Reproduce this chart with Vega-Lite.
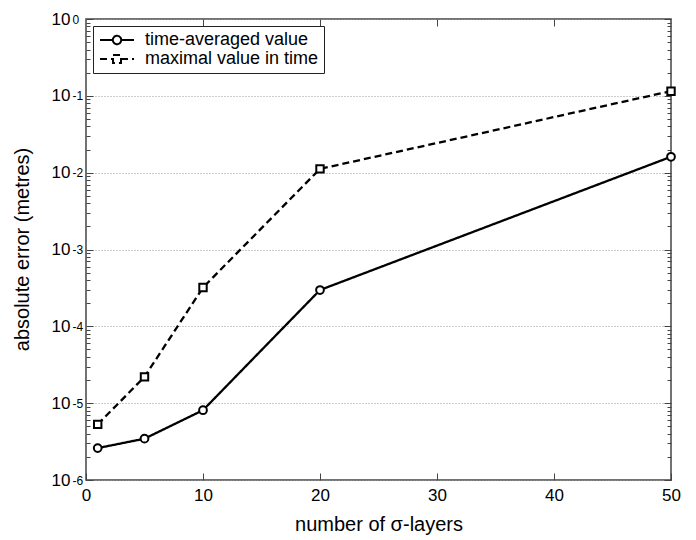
{
  "$schema": "https://vega.github.io/schema/vega-lite/v6.json",
  "width": 585,
  "height": 461,
  "autosize": {"type": "none"},
  "padding": {"left": 86, "top": 19, "right": 25, "bottom": 60},
  "background": "white",
  "config": {
    "font": "Liberation Sans",
    "view": {"stroke": "#444", "strokeWidth": 1.5},
    "axis": {"labelColor": "black", "titleColor": "black", "tickColor": "#444", "tickWidth": 1, "domain": false, "labelFont": "Liberation Sans", "titleFont": "Liberation Sans"}
  },
  "data": {
    "values": [
      {"layers": 1, "error": 2.6e-6, "series": "time-averaged value"},
      {"layers": 5, "error": 3.45e-6, "series": "time-averaged value"},
      {"layers": 10, "error": 8.1e-6, "series": "time-averaged value"},
      {"layers": 20, "error": 2.97e-4, "series": "time-averaged value"},
      {"layers": 50, "error": 0.0161, "series": "time-averaged value"},
      {"layers": 1, "error": 5.3e-6, "series": "maximal value in time"},
      {"layers": 5, "error": 2.2e-5, "series": "maximal value in time"},
      {"layers": 10, "error": 3.2e-4, "series": "maximal value in time"},
      {"layers": 20, "error": 0.0112, "series": "maximal value in time"},
      {"layers": 50, "error": 0.115, "series": "maximal value in time"}
    ]
  },
  "layer": [
    {
      "mark": {"type": "line", "strokeWidth": 2.3, "color": "black"},
      "encoding": {
        "x": {
          "field": "layers", "type": "quantitative",
          "scale": {"domain": [0, 50], "nice": false},
          "axis": {
            "orient": "bottom", "values": [0, 10, 20, 30, 40, 50], "tickSize": -7,
            "labelFontSize": 17, "labelPadding": 14, "grid": false,
            "title": "number of σ-layers", "titleFontSize": 20, "titleFontWeight": "normal",
            "titleY": 50, "titleBaseline": "alphabetic",
            "labelFlush": false, "labelOverlap": false
          }
        },
        "y": {
          "field": "error", "type": "quantitative",
          "scale": {"type": "log", "domain": [1e-6, 1], "nice": false},
          "axis": {
            "orient": "left",
            "values": [1e-6, 2e-6, 3e-6, 4e-6, 5e-6, 6e-6, 7e-6, 8e-6, 9e-6, 1e-5, 2e-5, 3e-5, 4e-5, 5e-5, 6e-5, 7e-5, 8e-5, 9e-5, 1e-4, 2e-4, 3e-4, 4e-4, 5e-4, 6e-4, 7e-4, 8e-4, 9e-4, 1e-3, 2e-3, 3e-3, 4e-3, 5e-3, 6e-3, 7e-3, 8e-3, 9e-3, 1e-2, 2e-2, 3e-2, 4e-2, 5e-2, 6e-2, 7e-2, 8e-2, 9e-2, 0.1, 0.2, 0.3, 0.4, 0.5, 0.6, 0.7, 0.8, 0.9, 1],
            "tickSize": {"condition": {"test": "abs(log(datum.value)/LN10 - round(log(datum.value)/LN10)) < 0.001", "value": -7}, "value": -4},
            "labelExpr": "abs(log(datum.value)/LN10 - round(log(datum.value)/LN10)) < 0.001 ? '10' : ''",
            "labelFontSize": 17, "labelPadding": 23, "labelOverlap": false, "labelFlush": false, "labelBound": false,
            "grid": true,
            "gridOpacity": {"condition": {"test": "abs(log(datum.value)/LN10 - round(log(datum.value)/LN10)) < 0.001", "value": 1}, "value": 0},
            "gridDash": [1, 2], "gridColor": "#999", "gridWidth": 1,
            "title": "absolute error (metres)", "titleFontSize": 20, "titleFontWeight": "normal",
            "titleX": -58, "titleY": 230, "titleBaseline": "alphabetic", "titleAlign": "center", "titleAngle": -90
          }
        },
        "strokeDash": {
          "field": "series", "type": "nominal",
          "scale": {"domain": ["time-averaged value", "maximal value in time"], "range": [[1, 0], [7, 4]]},
          "legend": {
            "title": null, "orient": "top-left", "offset": 7,
            "strokeColor": "#222", "fillColor": "white", "padding": 5, "cornerRadius": 0,
            "labelFontSize": 18, "labelColor": "black", "labelOffset": 29, "rowPadding": 1, "labelLimit": 400,
            "symbolSize": 196, "symbolStrokeColor": "black", "symbolStrokeWidth": 2, "symbolFillColor": "white",
            "encode": {
              "symbols": {
                "update": {
                  "shape": {"signal": "datum.value == 'time-averaged value' ? 'M-1,0H0.83M2.03,0H3.86M2.03,0A0.6,0.6,0,1,1,0.83,0A0.6,0.6,0,1,1,2.03,0' : 'M-1,0H0.86M2,0H3.86M0.86,-0.57H2V0.57H0.86Z'"}
                }
              }
            }
          }
        }
      }
    },
    {
      "transform": [{"filter": "datum.series == 'time-averaged value'"}],
      "mark": {"type": "point", "shape": "circle", "filled": false, "color": "black", "strokeWidth": 2, "size": 60, "opacity": 1, "fill": "white"},
      "encoding": {
        "x": {
          "field": "layers", "type": "quantitative",
          "scale": {"domain": [0, 50], "nice": false},
          "axis": {"orient": "top", "values": [10, 20, 30, 40], "tickSize": -7, "labels": false, "title": null, "grid": false}
        },
        "y": {
          "field": "error", "type": "quantitative",
          "scale": {"type": "log", "domain": [1e-6, 1], "nice": false},
          "axis": {
            "orient": "right",
            "values": [1e-6, 2e-6, 3e-6, 4e-6, 5e-6, 6e-6, 7e-6, 8e-6, 9e-6, 1e-5, 2e-5, 3e-5, 4e-5, 5e-5, 6e-5, 7e-5, 8e-5, 9e-5, 1e-4, 2e-4, 3e-4, 4e-4, 5e-4, 6e-4, 7e-4, 8e-4, 9e-4, 1e-3, 2e-3, 3e-3, 4e-3, 5e-3, 6e-3, 7e-3, 8e-3, 9e-3, 1e-2, 2e-2, 3e-2, 4e-2, 5e-2, 6e-2, 7e-2, 8e-2, 9e-2, 0.1, 0.2, 0.3, 0.4, 0.5, 0.6, 0.7, 0.8, 0.9, 1],
            "tickSize": {"condition": {"test": "abs(log(datum.value)/LN10 - round(log(datum.value)/LN10)) < 0.001", "value": -7}, "value": -4},
            "labels": false, "title": null, "grid": false
          }
        }
      }
    },
    {
      "transform": [{"filter": "datum.series == 'maximal value in time'"}],
      "mark": {"type": "point", "shape": "square", "filled": false, "color": "black", "strokeWidth": 2, "size": 55, "opacity": 1, "fill": "white"},
      "encoding": {
        "x": {
          "field": "layers", "type": "quantitative",
          "scale": {"domain": [0, 50], "nice": false},
          "axis": null
        },
        "y": {
          "field": "error", "type": "quantitative",
          "scale": {"type": "log", "domain": [1e-6, 1], "nice": false},
          "axis": {
            "orient": "left",
            "values": [1e-6, 1e-5, 1e-4, 1e-3, 1e-2, 0.1, 1],
            "ticks": false, "grid": false, "title": null,
            "labelExpr": "'' + round(log(datum.value)/LN10)",
            "labelFontSize": 12, "labelPadding": 14, "labelAlign": "left", "labelDy": -7,
            "labelOverlap": false, "labelFlush": false, "labelBound": false
          }
        }
      }
    }
  ],
  "resolve": {"axis": {"x": "independent", "y": "independent"}}
}
